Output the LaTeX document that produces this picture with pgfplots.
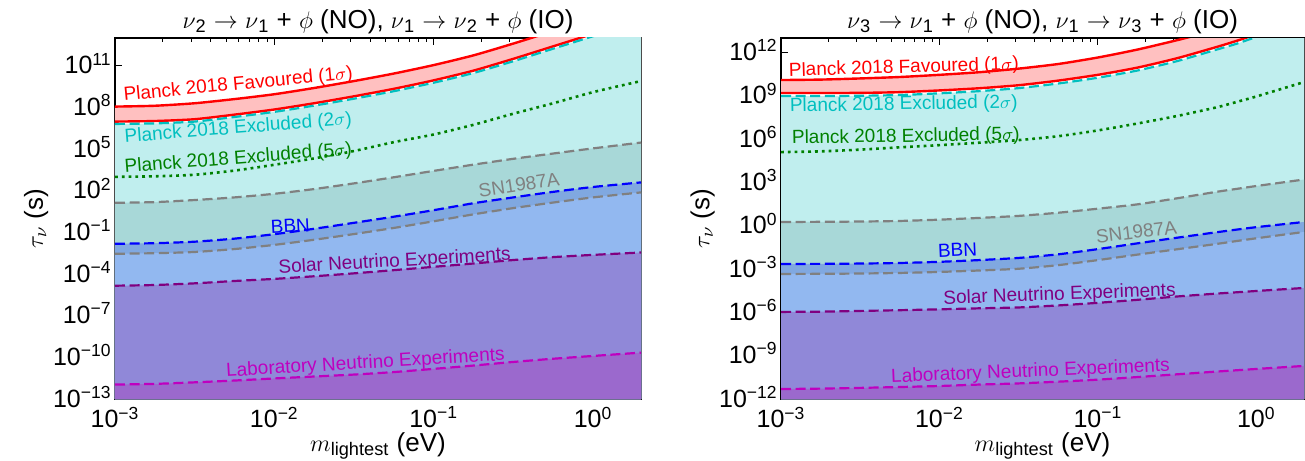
\documentclass[border=0pt]{standalone}
\usepackage{fontspec}
\setmainfont{Liberation Sans}
\usepackage{pgfplots}
\usepackage{pgfplotstable}
\pgfplotsset{compat=1.18}

\definecolor{pinkf}{RGB}{255,192,192}
\definecolor{cyanf}{RGB}{192,238,238}
\definecolor{snf}{RGB}{168,216,216}
\definecolor{ovf}{RGB}{128,168,224}
\definecolor{bbnf}{RGB}{146,184,240}
\definecolor{solf}{RGB}{144,136,216}
\definecolor{labf}{RGB}{155,105,205}
\definecolor{cyanl}{rgb}{0,0.75,0.75}
\definecolor{greenl}{rgb}{0,0.5,0}
\definecolor{grayl}{rgb}{0.5,0.5,0.5}
\definecolor{purpl}{rgb}{0.5,0,0.5}
\definecolor{magl}{rgb}{0.75,0,0.75}

\newcommand{\nus}[1]{$\nu$\textsubscript{#1}}
\newcommand{\lbl}{\fontsize{9.5}{11}\selectfont}
\newcommand{\tkf}{\fontsize{12.5}{14}\selectfont}
\newcommand{\lbf}{\fontsize{13}{15}\selectfont}

% log10 of tau (s) versus m_lightest (eV)
\pgfplotstableread{
m        ru     rl     cy     gr    su    bb     sl     so     la
0.001    8.06   6.98   6.81   3.00  1.13  -1.82  -2.54  -4.84  -11.96
0.001778 8.12   7.02   6.85   3.04  1.18  -1.78  -2.50  -4.79  -11.91
0.003162 8.30   7.15   6.98   3.15  1.33  -1.67  -2.41  -4.67  -11.80
0.005623 8.60   7.48   7.31   3.45  1.52  -1.45  -2.20  -4.50  -11.67
0.01     8.95   7.85   7.68   3.87  1.78  -1.13  -1.90  -4.35  -11.52
0.01778  9.40   8.30   8.13   4.33  2.12  -0.74  -1.53  -4.16  -11.38
0.03162  9.90   8.80   8.63   4.86  2.53  -0.31  -1.12  -3.95  -11.24
0.05623  10.44  9.34   9.17   5.50  2.97   0.13  -0.68  -3.72  -11.06
0.1      11.05  9.95   9.78   6.05  3.43   0.60  -0.20  -3.48  -10.83
0.1778   11.75  10.65  10.48  6.75  3.88   1.10   0.30  -3.24  -10.59
0.3162   12.60  11.50  11.33  7.55  4.30   1.52   0.75  -2.99  -10.33
0.5623   13.50  12.40  12.23  8.30  4.68   1.92   1.15  -2.78  -10.10
1        14.40  13.30  13.13  9.10  5.05   2.27   1.52  -2.62  -9.90
2        15.50  14.40  14.23  9.90  5.47   2.60   1.88  -2.45  -9.66
}\tabL

\pgfplotstableread{
m        ru     rl     cy     gr    su    bb     sl     so     la
0.001    10.09  9.19   8.98   5.10  0.26  -2.65  -3.34  -5.97  -11.31
0.001778 10.12  9.19   8.98   5.15  0.27  -2.64  -3.33  -5.95  -11.28
0.003162 10.20  9.20   9.00   5.27  0.29  -2.62  -3.31  -5.90  -11.23
0.005623 10.30  9.25   9.05   5.43  0.33  -2.58  -3.27  -5.85  -11.17
0.01     10.45  9.37   9.17   5.58  0.42  -2.50  -3.20  -5.79  -11.10
0.01778  10.63  9.52   9.32   5.75  0.54  -2.38  -3.10  -5.72  -11.00
0.03162  10.88  9.73   9.53   5.93  0.68  -2.23  -2.98  -5.66  -10.92
0.05623  11.20  10.05  9.85   6.20  0.90  -1.98  -2.73  -5.52  -10.80
0.1      11.65  10.45  10.25  6.60  1.18  -1.62  -2.38  -5.34  -10.66
0.1778   12.20  10.95  10.75  7.08  1.48  -1.22  -2.00  -5.13  -10.48
0.3162   12.85  11.60  11.40  7.60  1.90  -0.83  -1.63  -4.90  -10.29
0.5623   13.55  12.38  12.20  8.20  2.35  -0.45  -1.26  -4.70  -10.10
0.75     13.90  12.80  12.60  8.57  2.55  -0.27  -1.06  -4.61  -10.01
1        14.25  13.25  13.07  8.95  2.75  -0.10  -0.87  -4.52  -9.92
2        15.10  14.30  14.10  9.95  3.20   0.26  -0.43  -4.31  -9.71
}\tabR

\tikzset{mydash/.style={line width=1.1pt, dash pattern=on 5pt off 2.3pt}}

\newcommand{\drawall}[1]{%
  \addplot[fill=pinkf, draw=none, smooth, tension=0.4] table[x=m, y expr={10^(\thisrow{ru})}] {#1} \closedcycle;
  \addplot[fill=white, draw=none, smooth, tension=0.4] table[x=m, y expr={10^(\thisrow{rl})}] {#1} \closedcycle;
  \addplot[fill=cyanf, draw=none, smooth, tension=0.4] table[x=m, y expr={10^(\thisrow{cy})}] {#1} \closedcycle;
  \addplot[fill=snf, draw=none, smooth, tension=0.4] table[x=m, y expr={10^(\thisrow{su})}] {#1} \closedcycle;
  \addplot[fill=ovf, draw=none, smooth, tension=0.4] table[x=m, y expr={10^(\thisrow{bb})}] {#1} \closedcycle;
  \addplot[fill=bbnf, draw=none, smooth, tension=0.4] table[x=m, y expr={10^(\thisrow{sl})}] {#1} \closedcycle;
  \addplot[fill=solf, draw=none, smooth, tension=0.4] table[x=m, y expr={10^(\thisrow{so})}] {#1} \closedcycle;
  \addplot[fill=labf, draw=none, smooth, tension=0.4] table[x=m, y expr={10^(\thisrow{la})}] {#1} \closedcycle;
  \addplot[red, line width=1.2pt, smooth, tension=0.4] table[x=m, y expr={10^(\thisrow{ru})}] {#1};
  \addplot[red, line width=1.2pt, smooth, tension=0.4] table[x=m, y expr={10^(\thisrow{rl})}] {#1};
  \addplot[cyanl, mydash, smooth, tension=0.4] table[x=m, y expr={10^(\thisrow{cy})}] {#1};
  \addplot[greenl, line width=1.3pt, dash pattern=on 1.4pt off 2pt, smooth, tension=0.4] table[x=m, y expr={10^(\thisrow{gr})}] {#1};
  \addplot[grayl, mydash, smooth, tension=0.4] table[x=m, y expr={10^(\thisrow{su})}] {#1};
  \addplot[grayl, mydash, smooth, tension=0.4] table[x=m, y expr={10^(\thisrow{sl})}] {#1};
  \addplot[blue, mydash, smooth, tension=0.4] table[x=m, y expr={10^(\thisrow{bb})}] {#1};
  \addplot[purpl, mydash, smooth, tension=0.4] table[x=m, y expr={10^(\thisrow{so})}] {#1};
  \addplot[magl, mydash, smooth, tension=0.4] table[x=m, y expr={10^(\thisrow{la})}] {#1};
}

\begin{document}
\begin{tikzpicture}
\begin{axis}[at={(0pt,0pt)}, anchor=south west,
  scale only axis, width=263pt, height=180.5pt,
  xmode=log, ymode=log, log origin y=infty,
  xmin=0.001, xmax=2, ymin=1e-13, ymax=1e13,
  axis line style={black, line width=0.6pt},
  tick align=inside, tick pos=both,
  major tick length=3.5pt, minor tick length=2pt,
  tick style={black, line width=0.5pt},
  minor y tick style={draw=none},
  xtick={0.001,0.01,0.1,1},
  xticklabels={10\textsuperscript{−3},10\textsuperscript{−2},10\textsuperscript{−1},10\textsuperscript{0}},
  minor xtick={0.002,0.003,0.004,0.005,0.006,0.007,0.008,0.009,0.02,0.03,0.04,0.05,0.06,0.07,0.08,0.09,0.2,0.3,0.4,0.5,0.6,0.7,0.8,0.9,2},
  ytick={1e-13,1e-10,1e-7,1e-4,1e-1,1e2,1e5,1e8,1e11},
  yticklabels={10\textsuperscript{−13},10\textsuperscript{−10},10\textsuperscript{−7},10\textsuperscript{−4},10\textsuperscript{−1},10\textsuperscript{2},10\textsuperscript{5},10\textsuperscript{8},10\textsuperscript{11}},
  yticklabel style={anchor=base east, inner sep=1.5pt, yshift=-4pt, font=\tkf},
  xticklabel style={inner sep=1.5pt, yshift=-2.2pt, font=\tkf},
  title style={at={(0.5,1)}, anchor=south, inner sep=0pt, yshift=-4pt, font=\lbf},
  xlabel={$m$\textsubscript{lightest} (eV)},
  ylabel={$\tau_\nu$ (s)},
  xlabel style={at={(axis description cs:0.5,-0.13)}, anchor=center, font=\lbf},
  ylabel style={at={(axis description cs:-0.15,0.5)}, anchor=center, font=\lbf},
  title={\nus{2} $\rightarrow$ \nus{1} + $\phi$ (NO), \nus{1} $\rightarrow$ \nus{2} + $\phi$ (IO)}]
\drawall{\tabL}
\node[rotate=5.5, text=red, font=\lbl, inner sep=0pt] at (axis cs:0.00594,4.17e9) {Planck 2018 Favoured (1$\sigma$)};
\node[rotate=4.5, text=cyanl, font=\lbl, inner sep=0pt] at (axis cs:0.00594,3.0e6) {Planck 2018 Excluded (2$\sigma$)};
\node[rotate=4.5, text=greenl, font=\lbl, inner sep=0pt] at (axis cs:0.00594,1.95e4) {Planck 2018 Excluded (5$\sigma$)};
\node[rotate=8.5, text=grayl, font=\lbl, inner sep=0pt] at (axis cs:0.343,263) {SN1987A};
\node[rotate=3, text=blue, font=\lbl, inner sep=0pt] at (axis cs:0.0126,0.295) {BBN};
\node[rotate=3.3, text=purpl, font=\lbl, inner sep=0pt] at (axis cs:0.0569,7.6e-4) {Solar Neutrino Experiments};
\node[rotate=3.4, text=magl, font=\lbl, inner sep=0pt] at (axis cs:0.0373,3.55e-11) {Laboratory Neutrino Experiments};
\end{axis}

\begin{axis}[at={(333pt,0pt)}, anchor=south west,
  scale only axis, width=261.5pt, height=180.5pt,
  xmode=log, ymode=log, log origin y=infty,
  xmin=0.001, xmax=2, ymin=1e-12, ymax=1e13,
  axis line style={black, line width=0.6pt},
  tick align=inside, tick pos=both,
  major tick length=3.5pt, minor tick length=2pt,
  tick style={black, line width=0.5pt},
  minor y tick style={draw=none},
  xtick={0.001,0.01,0.1,1},
  xticklabels={10\textsuperscript{−3},10\textsuperscript{−2},10\textsuperscript{−1},10\textsuperscript{0}},
  minor xtick={0.002,0.003,0.004,0.005,0.006,0.007,0.008,0.009,0.02,0.03,0.04,0.05,0.06,0.07,0.08,0.09,0.2,0.3,0.4,0.5,0.6,0.7,0.8,0.9,2},
  ytick={1e-12,1e-9,1e-6,1e-3,1,1e3,1e6,1e9,1e12},
  yticklabels={10\textsuperscript{−12},10\textsuperscript{−9},10\textsuperscript{−6},10\textsuperscript{−3},10\textsuperscript{0},10\textsuperscript{3},10\textsuperscript{6},10\textsuperscript{9},10\textsuperscript{12}},
  yticklabel style={anchor=base east, inner sep=1.5pt, yshift=-4pt, font=\tkf},
  xticklabel style={inner sep=1.5pt, yshift=-2.2pt, font=\tkf},
  title style={at={(0.5,1)}, anchor=south, inner sep=0pt, yshift=-4pt, font=\lbf},
  xlabel={$m$\textsubscript{lightest} (eV)},
  ylabel={$\tau_\nu$ (s)},
  xlabel style={at={(axis description cs:0.5,-0.13)}, anchor=center, font=\lbf},
  ylabel style={at={(axis description cs:-0.15,0.5)}, anchor=center, font=\lbf},
  title={\nus{3} $\rightarrow$ \nus{1} + $\phi$ (NO), \nus{1} $\rightarrow$ \nus{3} + $\phi$ (IO)}]
\drawall{\tabR}
\node[rotate=1.7, text=red, font=\lbl, inner sep=0pt] at (axis cs:0.00596,8.3e10) {Planck 2018 Favoured (1$\sigma$)};
\node[rotate=1, text=cyanl, font=\lbl, inner sep=0pt] at (axis cs:0.00596,2.29e8) {Planck 2018 Excluded (2$\sigma$)};
\node[rotate=1, text=greenl, font=\lbl, inner sep=0pt] at (axis cs:0.00614,1.38e6) {Planck 2018 Excluded (5$\sigma$)};
\node[rotate=7, text=grayl, font=\lbl, inner sep=0pt] at (axis cs:0.175,0.37) {SN1987A};
\node[rotate=2.5, text=blue, font=\lbl, inner sep=0pt] at (axis cs:0.0130,0.0209) {BBN};
\node[rotate=2, text=purpl, font=\lbl, inner sep=0pt] at (axis cs:0.0573,1.58e-5) {Solar Neutrino Experiments};
\node[rotate=2.4, text=magl, font=\lbl, inner sep=0pt] at (axis cs:0.0376,7.4e-11) {Laboratory Neutrino Experiments};
\end{axis}
\pgfresetboundingbox
\path[use as bounding box] (-57.5pt,-30.5pt) rectangle (595pt,199.5pt);
\end{tikzpicture}
\end{document}
